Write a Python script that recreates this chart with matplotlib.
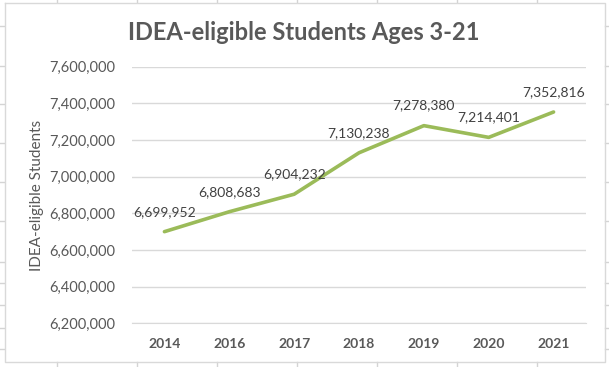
import matplotlib
matplotlib.use("Agg")
import matplotlib.pyplot as plt
from matplotlib.lines import Line2D
from matplotlib.ticker import FuncFormatter

years = ["2014", "2016", "2017", "2018", "2019", "2020", "2021"]
students = [6699952, 6808683, 6904232, 7130238, 7278380, 7214401, 7352816]
title = "IDEA-eligible Students Ages 3-21"
ylabel = "IDEA-eligible Students"

W, H = 609, 367
fig = plt.figure(figsize=(W / 100, H / 100), dpi=100)
fig.patch.set_facecolor("white")
plt.rcParams['font.family'] = ['Lato', 'DejaVu Sans']

gray = "#595959"
sheet = "#D4D4D4"

def px(x, y):
    return x / W, 1 - y / H

# spreadsheet grid lines outside the chart
cols = [57, 137, 217, 297, 377, 457, 537]
rows = [26, 66, 104, 143, 182, 221, 262, 283, 305, 328, 349]
for c in cols:
    for (y0, y1) in [(0, 2), (362, H)]:
        fig.add_artist(Line2D([c / W, c / W], [1 - y0 / H, 1 - y1 / H], color=sheet, lw=1))
for r in rows:
    for (x0, x1) in [(0, 4), (605, W)]:
        fig.add_artist(Line2D([x0 / W, x1 / W], [1 - r / H, 1 - r / H], color=sheet, lw=1))
# chart border
bx0, by0, bx1, by1 = 4.5, 2.5, 604.5, 362
fig.add_artist(Line2D([bx0 / W, bx1 / W, bx1 / W, bx0 / W, bx0 / W],
                      [1 - by0 / H, 1 - by0 / H, 1 - by1 / H, 1 - by1 / H, 1 - by0 / H],
                      color="#D9D9D9", lw=1))

left, right, top, bottom = 132, 586, 66.7, 323.3
ax = fig.add_axes([left / W, 1 - bottom / H, (right - left) / W, (bottom - top) / H])
x = list(range(len(years)))
ax.plot(x, students, color="#9BBB59", lw=2.6, solid_capstyle="round", zorder=3)
ax.set_xlim(-0.5, len(years) - 0.5)
ax.set_ylim(6200000, 7600000)
ax.set_yticks(range(6200000, 7600001, 200000))
ax.yaxis.set_major_formatter(FuncFormatter(lambda v, p: f"{int(v):,}"))
ax.set_xticks(x)
ax.set_xticklabels(years, fontweight="bold")
ax.grid(axis="y", color="#D9D9D9", lw=1)
ax.set_axisbelow(True)
for s in ax.spines.values():
    s.set_visible(False)
ax.spines["bottom"].set_visible(True)
ax.spines["bottom"].set_color("#D9D9D9")
ax.tick_params(axis="both", length=0, colors=gray)
ax.tick_params(axis="y", pad=12, labelsize=10.5)
ax.tick_params(axis="x", pad=10.5, labelsize=10)

for xi, v in zip(x, students):
    ax.annotate(f"{v:,}", (xi, v), xytext=(0, 20), textcoords="offset pixels",
                ha="center", va="center", fontsize=10, color="#404040")

fig.text(*px(304, 32), title, ha="center", va="center", fontsize=17,
         fontweight="bold", color=gray)
fig.text(*px(37, 195), ylabel, ha="center", va="center", rotation=90,
         fontsize=11, color=gray)

fig.savefig("out.png", dpi=100)
